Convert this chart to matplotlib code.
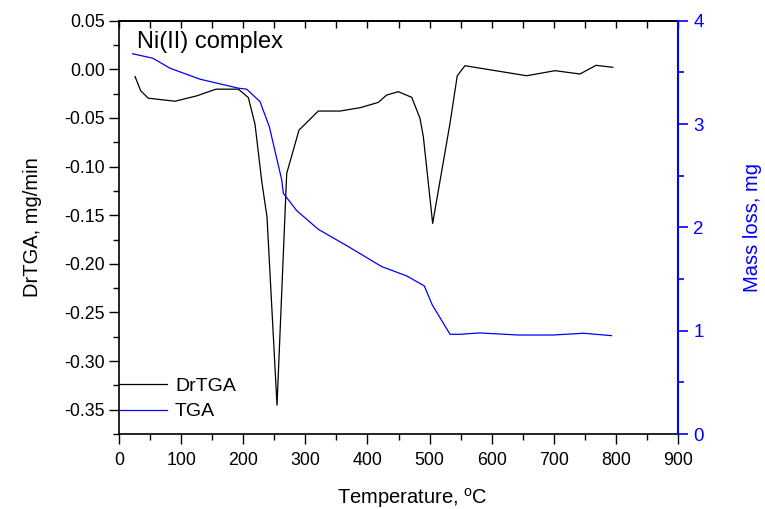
import matplotlib
matplotlib.use("Agg")
import matplotlib.pyplot as plt
from matplotlib.ticker import MultipleLocator

plt.rcParams['font.family'] = ['Liberation Sans', 'DejaVu Sans']

# DrTGA data (left axis)
dr_temp = [25.8, 34.9, 47.2, 90.2, 125.1, 156.2, 192.1, 208.2, 219, 229.8, 238.3, 254.4,
           270, 289.8, 320.9, 355.8, 388, 417.5, 431, 449.7, 471.3, 484.6, 490, 505,
           532.9, 544.6, 557, 656.3, 702, 742.2, 768, 795]
dr_vals = [-0.0074, -0.022, -0.0297, -0.0328, -0.0273, -0.0204, -0.0204, -0.029, -0.0565,
           -0.115, -0.152, -0.3454, -0.107, -0.0625, -0.0429, -0.0429, -0.0395, -0.034,
           -0.0264, -0.023, -0.0288, -0.0504, -0.0693, -0.1584, -0.0556, -0.0066, 0.0037,
           -0.0066, -0.0014, -0.0048, 0.0041, 0.0021]

# TGA data (right axis)
tga_temp = [22, 54.3, 82.1, 130.4, 192.1, 205.6, 227, 242, 262, 264.5, 286.1, 320.9,
            366.6, 423, 463.2, 491.5, 504.4, 533, 549, 581, 643, 699, 747.5, 793]
tga_vals = [3.68, 3.637, 3.54, 3.434, 3.347, 3.337, 3.217, 2.975, 2.459, 2.33, 2.162, 1.981,
            1.823, 1.62, 1.53, 1.433, 1.249, 0.965, 0.965, 0.978, 0.958, 0.958, 0.975, 0.952]

fig = plt.figure(figsize=(7.65, 5.09), dpi=100)
ax = fig.add_axes([119/765, 1-434/509, 559/765, (434-20.7)/509])
ax2 = ax.twinx()

l1, = ax.plot(dr_temp, dr_vals, color='black', lw=0.9, label='DrTGA')
l2, = ax2.plot(tga_temp, tga_vals, color='#0000ff', lw=0.9, label='TGA')

ax.set_xlim(0, 900)
ax.set_ylim(-0.375, 0.05)
ax2.set_ylim(0, 4)

ax.xaxis.set_major_locator(MultipleLocator(100))
ax.xaxis.set_minor_locator(MultipleLocator(50))
ax.yaxis.set_major_locator(MultipleLocator(0.05))
ax.yaxis.set_minor_locator(MultipleLocator(0.025))
ax2.yaxis.set_major_locator(MultipleLocator(1))
ax2.yaxis.set_minor_locator(MultipleLocator(0.5))

ax.yaxis.set_major_formatter(matplotlib.ticker.FuncFormatter(lambda v, p: f"{v:.2f}".replace('-0.00', '0.00')))

ax.tick_params(axis='x', which='both', bottom=True, top=False, direction='out', labelsize=12.8, width=1, pad=6)
ax.tick_params(axis='x', which='major', length=7)
ax.tick_params(axis='x', which='minor', length=4)
ax.tick_params(axis='y', which='both', left=True, right=False, direction='out', labelsize=12.8, width=1, pad=3)
ax.tick_params(axis='y', which='major', length=7)
ax.tick_params(axis='y', which='minor', length=4)

# top inward ticks via secondary axis
top = ax.secondary_xaxis('top')
top.xaxis.set_major_locator(MultipleLocator(100))
top.xaxis.set_minor_locator(MultipleLocator(50))
top.tick_params(axis='x', which='both', direction='in', labeltop=False, width=1)
top.tick_params(axis='x', which='major', length=5)
top.tick_params(axis='x', which='minor', length=5)
top.spines['top'].set_linewidth(1.2)

ax2.tick_params(axis='y', which='both', direction='out', colors='#0000ff', labelsize=13.5, width=1.2, pad=4)
ax2.tick_params(axis='y', which='major', length=7)
ax2.tick_params(axis='y', which='minor', length=4)
ax2.spines['right'].set_color('#0000ff')
ax2.spines['right'].set_linewidth(1.5)
for s in ['left', 'bottom', 'top']:
    ax.spines[s].set_linewidth(1.2)
ax.spines['right'].set_visible(False)
ax2.spines['left'].set_visible(False)
ax2.spines['top'].set_visible(False)
ax2.spines['bottom'].set_visible(False)

ax.set_xlabel('Temperature, $^{\\mathregular{o}}$C', fontsize=14.5, labelpad=12)
ax.xaxis.label.set_x(0.524)
ax.set_ylabel('DrTGA, mg/min', fontsize=14.5, labelpad=16)
ax2.set_ylabel('Mass loss, mg', fontsize=14.5, color='#0000ff', labelpad=28)

ax.text(0.032, 0.975, 'Ni(II) complex', transform=ax.transAxes, fontsize=17, va='top', ha='left')

ax.legend(handles=[l1, l2], loc='lower left', bbox_to_anchor=(-0.025, 0.0), frameon=False,
          fontsize=14, handlelength=2.5, handletextpad=0.4, labelspacing=0.4, borderaxespad=0.3)

fig.savefig('out.png', dpi=100)
